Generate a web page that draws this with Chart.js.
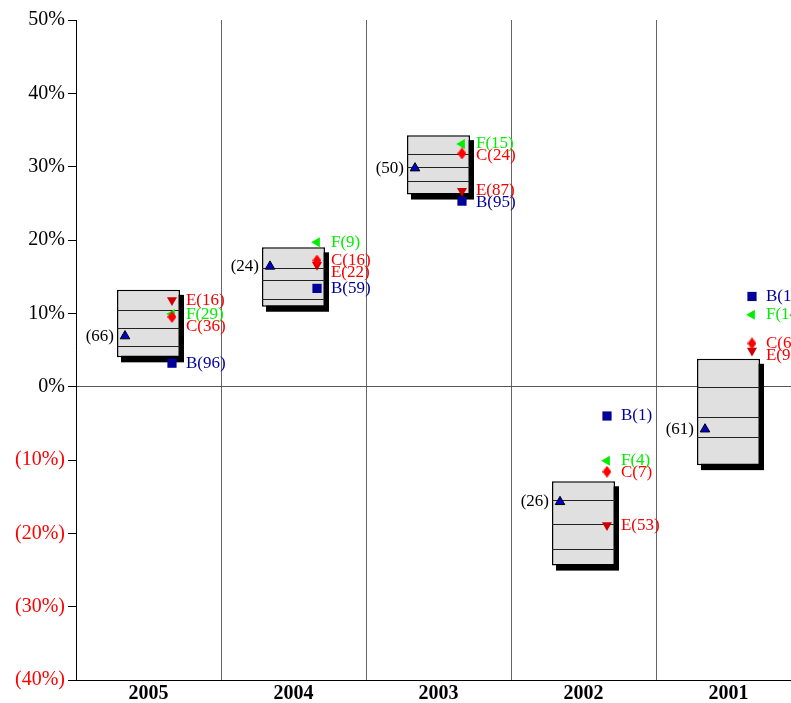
<!DOCTYPE html>
<html>
<head>
<meta charset="utf-8">
<script src="https://cdn.jsdelivr.net/npm/chart.js@4.4.0/dist/chart.umd.min.js"></script>
<style>
    html, body { margin: 0; padding: 0; overflow: hidden; background: #fff; }
    #wrap { width: 791px; height: 703px; overflow: hidden; }
</style>
</head>
<body>
<div id="wrap"><canvas id="myChart" width="830" height="703"></canvas></div>
<script>
const years = ["2005", "2004", "2003", "2002", "2001"];

// box: bottom / lower line / middle line / upper line / top (percent)
const boxTop = [13.2, 19.0, 34.3, -12.9, 3.8];
const boxQ3 = [10.5, 16.2, 31.7, -15.5, 0.0];
const boxMed = [8.0, 14.5, 29.9, -18.7, -4.1];
const boxQ1 = [5.5, 11.9, 28.0, -22.1, -6.8];
const boxBottom = [4.0, 10.9, 26.2, -24.4, -10.7];

// peer group marker (blue triangle) and its count
const peerVal = [6.9, 16.4, 29.8, -15.7, -5.8];
const peerCount = [66, 24, 50, 26, 61];

// individual series and their ranks
const bVal = [3.2, 13.4, 25.3, -4.0, 12.3];
const bRank = [96, 59, 95, 1, 12];
const cVal = [9.5, 17.2, 31.8, -11.6, 5.9];
const cRank = [36, 16, 24, 7, 63];
const eVal = [11.8, 16.6, 26.7, -18.9, 4.9];
const eRank = [16, 22, 87, 53, 91];
const fVal = [9.9, 19.7, 33.1, -10.1, 9.8];
const fRank = [29, 9, 15, 4, 14];

const MARK_DX = 0.162; // marker offset from the category centre, in categories
const SERIF = "'Liberation Serif', 'Times New Roman', serif";

// tall diamond for series C
const diamond = document.createElement("canvas");
diamond.width = 9;
diamond.height = 12;
(function () {
    const d = diamond.getContext("2d");
    d.fillStyle = "#ff0000";
    d.beginPath();
    d.moveTo(4.5, 0); d.lineTo(9, 6); d.lineTo(4.5, 12); d.lineTo(0, 6);
    d.closePath();
    d.fill();
})();

const series = [
    {name: "B", values: bVal, ranks: bRank, style: "rect", rot: 0, r: 6.5, color: "#000099", text: "#000099"},
    {name: "C", values: cVal, ranks: cRank, style: diamond, rot: 0, r: 6, color: "#ff0000", text: "#ff0000"},
    {name: "E", values: eVal, ranks: eRank, style: "triangle", rot: 180, r: 5.8, color: "#cc0000", text: "#ee0000"},
    {name: "F", values: fVal, ranks: fRank, style: "triangle", rot: -90, r: 5.8, color: "#00ee00", text: "#00ee00"}
];

const boxDecor = {
    id: "boxDecor",
    beforeDatasetsDraw(chart) {
        // drop shadow behind each box
        const ctx = chart.ctx;
        ctx.save();
        ctx.fillStyle = "#000";
        chart.getDatasetMeta(0).data.forEach((bar) => {
            const p = bar.getProps(["x", "y", "base", "width"], true);
            const top = Math.min(p.y, p.base);
            ctx.fillRect(p.x - p.width / 2 + 4, top + 5, p.width, Math.abs(p.base - p.y));
        });
        ctx.restore();
    },
    afterDatasetDraw(chart, args) {
        if (args.index !== 0) return;
        const ctx = chart.ctx;
        const ys = chart.scales.y;
        ctx.save();
        ctx.strokeStyle = "#222";
        ctx.lineWidth = 1.2;
        args.meta.data.forEach((bar, i) => {
            const p = bar.getProps(["x", "width"], true);
            [boxQ3[i], boxMed[i], boxQ1[i]].forEach((v) => {
                const py = Math.round(ys.getPixelForValue(v)) + 0.5;
                ctx.beginPath();
                ctx.moveTo(p.x - p.width / 2, py);
                ctx.lineTo(p.x + p.width / 2, py);
                ctx.stroke();
            });
        });
        ctx.restore();
    },
    afterDatasetsDraw(chart) {
        const ctx = chart.ctx;
        const ys = chart.scales.y;
        const xs = chart.scales.x;
        ctx.save();
        ctx.font = "17px " + SERIF;
        ctx.textBaseline = "middle";
        years.forEach((yr, i) => {
            ctx.textAlign = "right";
            ctx.fillStyle = "#000";
            ctx.fillText("(" + peerCount[i] + ")", xs.getPixelForValue(i - MARK_DX) - 11, ys.getPixelForValue(peerVal[i]));

            // labels to the right, pushed apart when they would overlap
            const items = series.map((s) => ({
                y: ys.getPixelForValue(s.values[i]),
                text: s.name + "(" + s.ranks[i] + ")",
                color: s.text
            }));
            items.sort((a, b) => a.y - b.y);
            for (let k = 1; k < items.length; k++) {
                if (items[k].y - items[k - 1].y < 12) items[k].y = items[k - 1].y + 12;
            }
            ctx.textAlign = "left";
            const lx = xs.getPixelForValue(i + MARK_DX) + 14;
            items.forEach((it) => {
                ctx.fillStyle = it.color;
                ctx.fillText(it.text, lx, it.y);
            });
        });
        ctx.restore();
    }
};

const datasets = [
    {
        type: "bar",
        data: years.map((_, i) => ({x: i, y: [boxBottom[i], boxTop[i]]})),
        backgroundColor: "#e0e0e0",
        borderColor: "#000",
        borderWidth: 1.5,
        borderSkipped: false,
        grouped: false,
        barPercentage: 63 / 145,
        categoryPercentage: 1,
        order: 10
    },
    {
        type: "scatter",
        data: peerVal.map((v, i) => ({x: i - MARK_DX, y: v})),
        pointStyle: "triangle",
        radius: 5.5,
        backgroundColor: "#0000cc",
        borderColor: "#000",
        borderWidth: 1,
        order: 1
    }
];
series.forEach((s) => {
    datasets.push({
        type: "scatter",
        data: s.values.map((v, i) => ({x: i + MARK_DX, y: v})),
        pointStyle: s.style,
        rotation: s.rot,
        radius: s.r,
        backgroundColor: s.color,
        borderColor: s.color,
        borderWidth: 0,
        order: 1
    });
});

const ctx = document.getElementById("myChart").getContext("2d");
new Chart(ctx, {
    type: "bar",
    data: {datasets: datasets},
    options: {
        responsive: false,
        animation: false,
        events: [],
        layout: {padding: {left: 0, top: 20, right: 29, bottom: 0}},
        plugins: {legend: {display: false}, tooltip: {enabled: false}},
        scales: {
            x: {
                type: "linear",
                min: -0.5,
                max: 4.5,
                offset: false,
                afterBuildTicks: (s) => { s.ticks = years.map((_, i) => ({value: i})); },
                grid: {color: "#666", lineWidth: 1, offset: true, drawTicks: false, tickLength: 0},
                border: {color: "#000", width: 1},
                ticks: {
                    color: "#000",
                    padding: 2,
                    autoSkip: false,
                    maxRotation: 0,
                    font: {family: SERIF, size: 20, weight: "bold"},
                    callback: (v) => years[v]
                },
                afterFit: (s) => { s.height = 23; }
            },
            y: {
                min: -40,
                max: 50,
                grid: {
                    color: (c) => (c.tick && c.tick.value === 0 ? "#555" : "rgba(0,0,0,0)"),
                    tickColor: "#000",
                    tickLength: 8,
                    lineWidth: 1
                },
                border: {color: "#000", width: 1},
                ticks: {
                    stepSize: 10,
                    padding: 3,
                    color: (c) => (c.tick.value < 0 ? "#ff0000" : "#000"),
                    font: {family: SERIF, size: 20},
                    callback: (v) => (v < 0 ? "(" + (-v) + "%)" : v + "%")
                },
                afterFit: (s) => { s.width = 76; }
            }
        }
    },
    plugins: [boxDecor]
});
</script>
</body>
</html>
